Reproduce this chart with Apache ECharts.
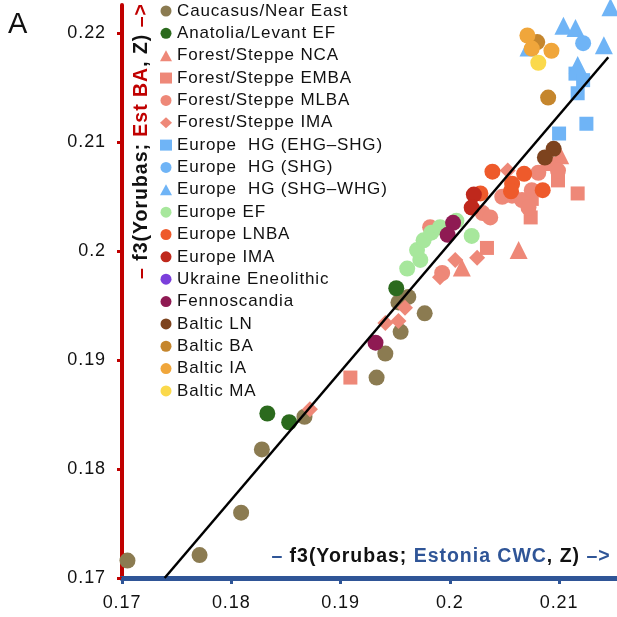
<!DOCTYPE html>
<html>
<head>
<meta charset="utf-8">
<script src="https://cdn.jsdelivr.net/npm/echarts@6/dist/echarts.min.js"></script>
<style>html,body{margin:0;padding:0;background:#fff}#c{width:617px;height:617px}</style>
</head>
<body>
<div id="c"></div>
<script>
const xTicks = [0.17, 0.18, 0.19, 0.2, 0.21];
const yTicks = [0.17, 0.18, 0.19, 0.2, 0.21, 0.22];

const caucasus = [[0.1705,0.1716],[0.1771,0.1721],[0.1809,0.1760],[0.1828,0.1818],[0.1867,0.1848],[0.1933,0.1884],[0.1941,0.1906],[0.1955,0.1926],[0.1977,0.1943],[0.1953,0.1953],[0.1962,0.1958]];
const anatolia = [[0.1833,0.1851],[0.1853,0.1843],[0.1951,0.1966]];
const fsNCA = [[0.2011,0.1985],[0.2063,0.2001],[0.2101,0.2088]];
const fsEMBA = [[0.1909,0.1884],[0.2034,0.2003],[0.2074,0.2031],[0.2117,0.2053],[0.2099,0.2065],[0.2092,0.2080],[0.2075,0.2048]];
const fsMLBA = [[0.1982,0.2022],[0.1993,0.1980],[0.2030,0.2035],[0.2037,0.2031],[0.2048,0.2050],[0.2057,0.2051],[0.2066,0.2047],[0.2072,0.2040],[0.2075,0.2056],[0.2081,0.2072],[0.2090,0.2081],[0.2099,0.2074]];
const fsIMA = [[0.1872,0.1855],[0.1941,0.1934],[0.1953,0.1936],[0.1959,0.1948],[0.1991,0.1976],[0.2005,0.1992],[0.2025,0.1994],[0.2053,0.2074]];
const hgEHG = [[0.2115,0.2163],[0.2122,0.2157],[0.2117,0.2145],[0.2125,0.2117],[0.2100,0.2108]];
const hgSHG = [[0.2122,0.2191]];
const hgWHG = [[0.2147,0.2224],[0.2104,0.2207],[0.2115,0.2205],[0.2141,0.2189],[0.2072,0.2187],[0.2117,0.2171]];
const euEF = [[0.1961,0.1984],[0.1973,0.1992],[0.1970,0.2001],[0.1976,0.2010],[0.1983,0.2017],[0.1991,0.2022],[0.2006,0.2028],[0.2020,0.2014]];
const euLNBA = [[0.2039,0.2073],[0.2068,0.2071],[0.2057,0.2062],[0.2056,0.2055],[0.2085,0.2056],[0.2028,0.2053]];
const euIMA = [[0.2022,0.2052],[0.2020,0.2040]];
const ukraine = [];
const fenno = [[0.2003,0.2026],[0.1998,0.2015],[0.1932,0.1916]];
const balticLN = [[0.2095,0.2094],[0.2087,0.2086]];
const balticBA = [[0.2080,0.2192],[0.2090,0.2141]];
const balticIA = [[0.2071,0.2198],[0.2075,0.2186],[0.2093,0.2184]];
const balticMA = [[0.2081,0.2173]];
const fitLine = [[0.1739,0.17],[0.2145,0.2178]];

const groups = [
  ['Caucasus/Near East', caucasus, 'circle', '#8b7b51'],
  ['Anatolia/Levant EF', anatolia, 'circle', '#2b6a1d'],
  ['Forest/Steppe NCA', fsNCA, 'triangle', '#ee8878'],
  ['Forest/Steppe EMBA', fsEMBA, 'rect', '#ee8878'],
  ['Forest/Steppe MLBA', fsMLBA, 'circle', '#ee8878'],
  ['Forest/Steppe IMA', fsIMA, 'diamond', '#ee8878'],
  ['Europe  HG (EHG–SHG)', hgEHG, 'rect', '#6fb4f6'],
  ['Europe  HG (SHG)', hgSHG, 'circle', '#6fb4f6'],
  ['Europe  HG (SHG–WHG)', hgWHG, 'triangle', '#6fb4f6'],
  ['Europe EF', euEF, 'circle', '#a7e79c'],
  ['Europe LNBA', euLNBA, 'circle', '#ee5a2b'],
  ['Europe IMA', euIMA, 'circle', '#bf281c'],
  ['Ukraine Eneolithic', ukraine, 'circle', '#7b3fdb'],
  ['Fennoscandia', fenno, 'circle', '#8f1a53'],
  ['Baltic LN', balticLN, 'circle', '#7d431e'],
  ['Baltic BA', balticBA, 'circle', '#c5862d'],
  ['Baltic IA', balticIA, 'circle', '#f0a63b'],
  ['Baltic MA', balticMA, 'circle', '#fbd94b']
];
const sizes = {circle: 16, rect: 14, triangle: 18, diamond: 16};

// slightly tracked lettering, as in the original figure
(function () {
  const P = CanvasRenderingContext2D.prototype;
  if (!('letterSpacing' in P)) return;
  const setSp = ctx => {
    const m = /(\d+(?:\.\d+)?)px/.exec(ctx.font);
    if (m) ctx.letterSpacing = (parseFloat(m[1]) * 0.05).toFixed(2) + 'px';
  };
  ['fillText', 'strokeText', 'measureText'].forEach(fn => {
    const orig = P[fn];
    P[fn] = function () { setSp(this); return orig.apply(this, arguments); };
  });
})();

const FONT = "'Liberation Sans', Arial, sans-serif";
const fmt = v => String(+v.toFixed(2));

const series = groups.map(g => ({
  name: g[0], type: 'scatter', data: g[1], symbol: g[2], symbolSize: sizes[g[2]],
  itemStyle: {color: g[3], opacity: 1}, z: 3
}));
series.push({
  name: 'fit', type: 'line', data: fitLine, symbol: 'none', silent: true, z: 5,
  lineStyle: {color: '#000', width: 2.5}
});

const chart = echarts.init(document.getElementById('c'), null, {renderer: 'canvas'});
chart.setOption({
  animation: false,
  backgroundColor: '#fff',
  grid: {left: 122, top: 5, bottom: 39, right: 0, containLabel: false},
  xAxis: {
    type: 'value', min: 0.17, max: 0.2153, interval: 0.01,
    splitLine: {show: false},
    axisLine: {lineStyle: {color: '#2f5597', width: 5}},
    axisTick: {customValues: xTicks, length: 6, lineStyle: {color: '#2f5597', width: 3}},
    axisLabel: {customValues: xTicks, formatter: fmt, color: '#111', fontFamily: FONT, fontSize: 18, margin: 16}
  },
  yAxis: {
    type: 'value', min: 0.17, max: 0.2226, interval: 0.01,
    splitLine: {show: false},
    axisLine: {lineStyle: {color: '#c00000', width: 4}},
    axisTick: {customValues: yTicks, length: 5, lineStyle: {color: '#c00000', width: 3}},
    axisLabel: {customValues: yTicks, formatter: fmt, color: '#111', fontFamily: FONT, fontSize: 18, margin: 16}
  },
  legend: {
    data: groups.map(g => g[0]),
    orient: 'vertical', left: 160, top: 2, padding: 0,
    itemWidth: 12, itemHeight: 11, itemGap: 4.35,
    textStyle: {color: '#111', fontFamily: FONT, fontSize: 17, lineHeight: 18},
    selectedMode: false
  },
  graphic: [
    {type: 'text', left: 8, top: 10, style: {text: 'A', fontSize: 29, fontFamily: FONT, fill: '#111'}},
    {type: 'text', x: 142, y: 141, rotation: Math.PI / 2,
      style: {
        text: '{r|– }{b|f3(Yorubas; }{rb|Est BA}{b|, Z) }{r|–>}',
        align: 'center', verticalAlign: 'middle',
        rich: {
          r: {fill: '#c00000', fontSize: 19.5, fontFamily: FONT, fontWeight: 'bold'},
          b: {fill: '#111', fontSize: 19.5, fontFamily: FONT, fontWeight: 'bold'},
          rb: {fill: '#c00000', fontSize: 19.5, fontFamily: FONT, fontWeight: 'bold'}
        }
      }},
    {type: 'text', x: 441, y: 557,
      style: {
        text: '{r|– }{b|f3(Yorubas; }{rb|Estonia CWC}{b|, Z) }{r|–>}',
        align: 'center', verticalAlign: 'middle',
        rich: {
          r: {fill: '#2f5597', fontSize: 19.5, fontFamily: FONT, fontWeight: 'bold'},
          b: {fill: '#111', fontSize: 19.5, fontFamily: FONT, fontWeight: 'bold'},
          rb: {fill: '#2f5597', fontSize: 19.5, fontFamily: FONT, fontWeight: 'bold'}
        }
      }}
  ],
  series: series
});
</script>
</body>
</html>
